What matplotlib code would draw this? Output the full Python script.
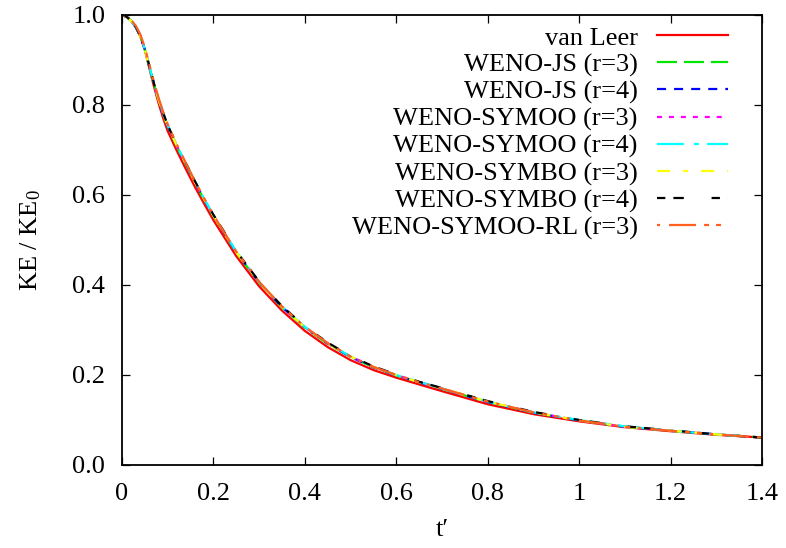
import numpy as np
import matplotlib
matplotlib.use('Agg')
import matplotlib.pyplot as plt

plt.rcParams['font.family'] = ['Liberation Serif', 'DejaVu Serif']
plt.rcParams['mathtext.fontset'] = 'custom'
plt.rcParams['mathtext.rm'] = 'Liberation Serif'
plt.rcParams['mathtext.it'] = 'Liberation Serif:italic'
plt.rcParams['lines.scale_dashes'] = False

# time samples (t')
t = [0.0, 0.01, 0.02, 0.03, 0.04, 0.05, 0.06, 0.07, 0.08, 0.09, 0.10, 0.12, 0.14, 0.16, 0.18,
     0.20, 0.25, 0.30, 0.35, 0.40, 0.45, 0.50, 0.55, 0.60, 0.65, 0.70, 0.80, 0.90, 1.00,
     1.10, 1.20, 1.30, 1.40]

# KE / KE0
van_leer = [1.0, 0.996, 0.987, 0.973, 0.953, 0.923, 0.881, 0.841, 0.804, 0.771, 0.742, 0.698,
            0.657, 0.617, 0.580, 0.544, 0.464, 0.397, 0.343, 0.298, 0.262, 0.233, 0.211, 0.194,
            0.179, 0.164, 0.135, 0.113, 0.097, 0.084, 0.075, 0.067, 0.061]
weno_js3 = [1.0, 0.996, 0.987, 0.973, 0.953, 0.923, 0.884, 0.846, 0.811, 0.780, 0.752, 0.708,
            0.667, 0.627, 0.589, 0.553, 0.472, 0.405, 0.350, 0.305, 0.269, 0.240, 0.217, 0.199,
            0.184, 0.169, 0.140, 0.116, 0.099, 0.085, 0.076, 0.068, 0.061]
weno_js4 = [1.0, 0.996, 0.987, 0.973, 0.953, 0.923, 0.884, 0.846, 0.812, 0.781, 0.753, 0.709,
            0.668, 0.628, 0.590, 0.554, 0.473, 0.406, 0.351, 0.306, 0.270, 0.240, 0.217, 0.199,
            0.184, 0.169, 0.140, 0.116, 0.099, 0.085, 0.076, 0.068, 0.061]
symoo3 = [1.0, 0.996, 0.987, 0.973, 0.953, 0.923, 0.884, 0.846, 0.811, 0.781, 0.753, 0.709,
          0.668, 0.628, 0.590, 0.554, 0.473, 0.406, 0.351, 0.306, 0.270, 0.241, 0.218, 0.200,
          0.184, 0.170, 0.141, 0.117, 0.099, 0.085, 0.076, 0.068, 0.061]
symoo4 = [1.0, 0.996, 0.987, 0.973, 0.954, 0.924, 0.885, 0.847, 0.812, 0.782, 0.754, 0.710,
          0.669, 0.629, 0.591, 0.555, 0.474, 0.407, 0.352, 0.307, 0.271, 0.241, 0.218, 0.200,
          0.185, 0.170, 0.141, 0.117, 0.100, 0.086, 0.076, 0.068, 0.061]
symbo3 = [1.0, 0.996, 0.987, 0.973, 0.953, 0.923, 0.884, 0.846, 0.812, 0.781, 0.753, 0.709,
          0.668, 0.628, 0.590, 0.554, 0.473, 0.406, 0.351, 0.306, 0.270, 0.241, 0.218, 0.200,
          0.184, 0.170, 0.141, 0.117, 0.099, 0.085, 0.076, 0.068, 0.061]
symbo4 = [1.0, 0.996, 0.988, 0.974, 0.954, 0.925, 0.886, 0.848, 0.813, 0.783, 0.755, 0.711,
          0.670, 0.630, 0.592, 0.556, 0.475, 0.408, 0.353, 0.308, 0.272, 0.242, 0.219, 0.201,
          0.185, 0.171, 0.142, 0.118, 0.100, 0.086, 0.077, 0.068, 0.061]
symoo_rl3 = [1.0, 0.997, 0.989, 0.976, 0.957, 0.928, 0.889, 0.851, 0.816, 0.785, 0.757, 0.712,
             0.670, 0.630, 0.592, 0.555, 0.474, 0.407, 0.352, 0.307, 0.271, 0.241, 0.218, 0.200,
             0.184, 0.170, 0.141, 0.117, 0.099, 0.085, 0.076, 0.068, 0.061]

labels = ['van Leer', 'WENO-JS (r=3)', 'WENO-JS (r=4)', 'WENO-SYMOO (r=3)', 'WENO-SYMOO (r=4)',
          'WENO-SYMBO (r=3)', 'WENO-SYMBO (r=4)', 'WENO-SYMOO-RL (r=3)']
series = [van_leer, weno_js3, weno_js4, symoo3, symoo4, symbo3, symbo4, symoo_rl3]
colors = ['#ff0000', '#00e600', '#0000ff', '#ff00ff', '#00ffff', '#ffff00', '#000000', '#ff6020']
# gnuplot-like dash types (points)
dashes = [None,
          (14.4, 5),
          (6.5, 5.8),
          (3.6, 5),
          (19.4, 7.2, 3.6, 5.8),
          (9.4, 9.4, 3.6, 9.4),
          (6, 5.8, 7.5, 20),
          (2.2, 6.5, 19.4, 5.8, 3.6, 5, 3.6, 5.8)]

fig = plt.figure(figsize=(7.86, 5.48), dpi=100)
ax = fig.add_axes([0.1552, 0.1515, 0.8142, 0.8212])

for y, lab, c, d in zip(series, labels, colors, dashes):
    line, = ax.plot(t, y, color=c, lw=1.6, label=lab)
    if d is not None:
        line.set_dashes(d)

ax.set_xlim(0, 1.4)
ax.set_ylim(0, 1.0)
ax.set_xticks(np.arange(0, 1.41, 0.2))
ax.set_xticklabels(['0', '0.2', '0.4', '0.6', '0.8', '1', '1.2', '1.4'])
ax.set_yticks(np.arange(0, 1.01, 0.2))
ax.set_yticklabels(['%.1f' % v for v in np.arange(0, 1.01, 0.2)])
ax.tick_params(direction='in', length=5.5, width=0.9, top=True, right=True, labelsize=19)
ax.tick_params(axis='x', pad=13)
ax.tick_params(axis='y', pad=12)
for s in ax.spines.values():
    s.set_linewidth(1.3)

ax.set_xlabel('t\u2032', fontsize=19, labelpad=10)
ax.set_ylabel('KE / KE$_0$', fontsize=19, labelpad=21)

ax.legend(loc='upper right', frameon=False, markerfirst=False, fontsize=19,
          handlelength=2.7, handletextpad=0.72, labelspacing=0.125,
          borderaxespad=0, borderpad=0, bbox_to_anchor=(0.947, 0.975))

fig.savefig('out.png', dpi=100)
